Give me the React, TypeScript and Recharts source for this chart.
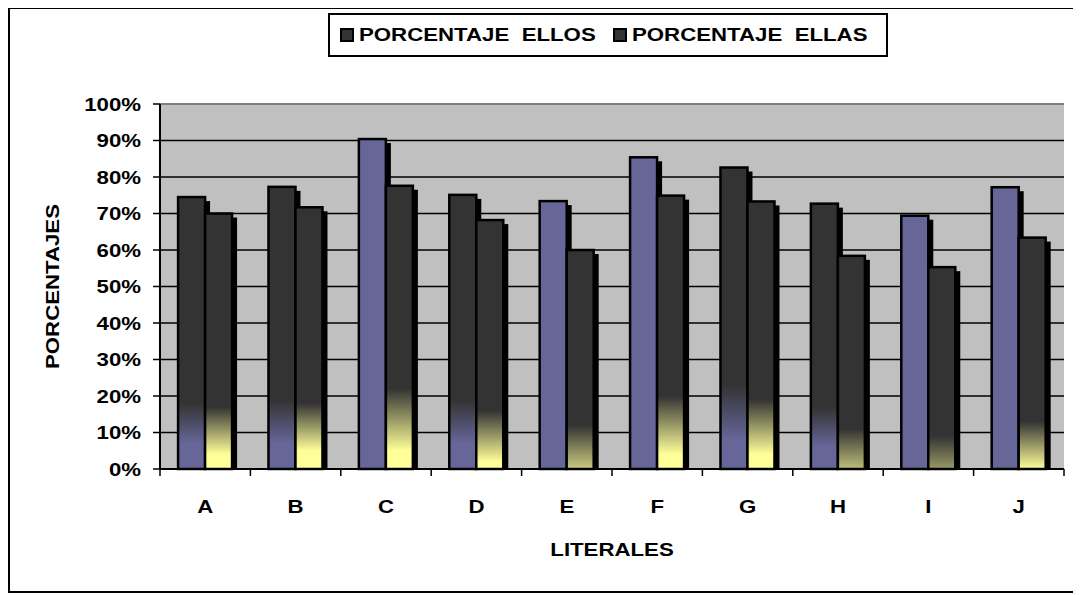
import React from 'react';
import { BarChart, Bar, XAxis, YAxis, CartesianGrid, Legend, Label, ReferenceLine } from 'recharts';

const literales = ['A', 'B', 'C', 'D', 'E', 'F', 'G', 'H', 'I', 'J'];
const porcentajeEllos = [74.5, 77.3, 90.4, 75.1, 73.4, 85.4, 82.6, 72.7, 69.4, 77.2];
const porcentajeEllas = [70.0, 71.7, 77.6, 68.2, 60.0, 74.9, 73.3, 58.4, 55.3, 63.4];
const yTicks = [0, 10, 20, 30, 40, 50, 60, 70, 80, 90, 100];
const seriesNames = ['PORCENTAJE  ELLOS', 'PORCENTAJE  ELLAS'];

// where the dark top blends into the base colour, in axis units: [dark ends, full colour]
const fadeEllos = [[18, 7], [19, 7], null, [19, 7], null, null, [23, 8], [17, 6], null, null];
const fadeEllas = [[17, 4], [18, 5], [22, 5], [16, 2], [12, -4], [20, 4], [19, 4], [11, -5], [9, -9], [13, 0]];

const DARK = '#333333';
const PURPLE = '#666699';
const YELLOW = '#FFFF99';
const FONT = "'Liberation Sans', Arial, sans-serif";
const STRETCH = 1.17;
const FONT_SIZE = 19;
const PLOT_W = 904;

const data = literales.map((l, i) => ({ literal: l, ellos: porcentajeEllos[i], ellas: porcentajeEllas[i] }));

const StretchText = ({ x, y, anchor, rotate, children }: any) => (
  <text
    transform={`translate(${x},${y})${rotate ? ' rotate(-90)' : ''} scale(${STRETCH},1)`}
    textAnchor={anchor}
    dominantBaseline="central"
    fontFamily={FONT}
    fontWeight="bold"
    fontSize={FONT_SIZE}
    fill="#000"
  >
    {children}
  </text>
);

const makeShape = (key: string, base: string, fades: any[]) => (props: any) => {
  const { x, y, width, height, index, value } = props;
  if (!height || height <= 0) return <g />;
  const v = Array.isArray(value) ? value[1] - value[0] : value;
  const perUnit = height / v;
  const bottom = y + height;
  const fade = fades[index];
  const id = `fade-${key}-${index}`;
  return (
    <g>
      {fade && (
        <defs>
          <linearGradient id={id} gradientUnits="userSpaceOnUse" x1={0} x2={0} y1={bottom - fade[0] * perUnit} y2={bottom - fade[1] * perUnit}>
            <stop offset="0" stopColor={DARK} />
            <stop offset="1" stopColor={base} />
          </linearGradient>
        </defs>
      )}
      <rect x={x + 5} y={y + 4} width={width} height={Math.max(0, height - 4)} fill="#000" />
      <rect x={x} y={y} width={width} height={height} fill={fade ? `url(#${id})` : base} stroke="#000" strokeWidth={2.5} />
    </g>
  );
};

const XTick = (props: any) => {
  const { x, y, payload, index } = props;
  const band = PLOT_W / literales.length;
  const left = x - band / 2;
  return (
    <g>
      <line x1={left} x2={left} y1={y} y2={y + 7} stroke="#000" strokeWidth={1.5} />
      {index === literales.length - 1 && (
        <line x1={left + band} x2={left + band} y1={y} y2={y + 7} stroke="#000" strokeWidth={1.5} />
      )}
      <StretchText x={x} y={y + 37} anchor="middle">{payload.value}</StretchText>
    </g>
  );
};

const YTick = (props: any) => {
  const { x, y, payload } = props;
  return <StretchText x={x} y={y} anchor="end">{`${payload.value}%`}</StretchText>;
};

const LegendBox = () => (
  <div
    style={{
      boxSizing: 'border-box',
      width: 560,
      height: 44,
      border: '2px solid #000',
      background: '#fff',
      display: 'flex',
      alignItems: 'center',
      paddingLeft: 10,
      fontFamily: FONT,
      fontWeight: 'bold',
      fontSize: FONT_SIZE,
      color: '#000',
    }}
  >
    {seriesNames.map((name) => (
      <div key={name} style={{ width: 294, display: 'flex', alignItems: 'center' }}>
        <span style={{ display: 'inline-block', boxSizing: 'border-box', width: 14, height: 14, background: DARK, border: '2px solid #000', marginRight: 5 }} />
        <span style={{ display: 'inline-block', whiteSpace: 'pre', transform: `scaleX(${STRETCH})`, transformOrigin: 'left center' }}>{name}</span>
      </div>
    ))}
  </div>
);

export default function App() {
  return (
    <div
      style={{
        position: 'relative',
        boxSizing: 'border-box',
        width: 1074,
        height: 586,
        marginTop: -1,
        border: '2px solid #000',
        background: '#fff',
      }}
    >
      <BarChart
        width={1068}
        height={582}
        data={data}
        margin={{ top: 95, right: 14, bottom: 22, left: 10 }}
        barCategoryGap="20%"
        barGap={0}
      >
        <CartesianGrid vertical={false} stroke="#000" strokeWidth={1.6} fill="#C0C0C0" fillOpacity={1} />
        <XAxis
          dataKey="literal"
          height={100}
          tickLine={false}
          tickSize={0}
          tickMargin={0}
          axisLine={{ stroke: '#000', strokeWidth: 2 }}
          tick={<XTick />}
          interval={0}
        >
          <Label
            content={(p: any) => {
              const vb = p.viewBox;
              return <StretchText x={vb.x + vb.width / 2} y={vb.y + 80} anchor="middle">LITERALES</StretchText>;
            }}
          />
        </XAxis>
        <YAxis
          width={140}
          domain={[0, 100]}
          ticks={yTicks}
          interval={0}
          tickSize={7}
          tickMargin={12}
          tickLine={{ stroke: '#000', strokeWidth: 1.5 }}
          axisLine={{ stroke: '#000', strokeWidth: 2 }}
          tick={<YTick />}
        >
          <Label
            content={(p: any) => {
              const vb = p.viewBox;
              return <StretchText x={vb.x + 32} y={vb.y + vb.height / 2} anchor="middle" rotate>PORCENTAJES</StretchText>;
            }}
          />
        </YAxis>
        <YAxis yAxisId="r" orientation="right" width={0} domain={[0, 100]} tick={false} tickLine={false} axisLine={{ stroke: '#808080', strokeWidth: 2 }} />
        <ReferenceLine y={100} stroke="#808080" strokeWidth={2} />
        <Legend
          layout="horizontal"
          verticalAlign="middle"
          align="center"
          wrapperStyle={{ left: 318, top: 4, width: 560, height: 44 }}
          content={() => <LegendBox />}
        />
        <Bar dataKey="ellos" name={seriesNames[0]} fill={DARK} isAnimationActive={false} shape={makeShape('ellos', PURPLE, fadeEllos)} />
        <Bar dataKey="ellas" name={seriesNames[1]} fill={DARK} isAnimationActive={false} shape={makeShape('ellas', YELLOW, fadeEllas)} />
      </BarChart>
    </div>
  );
}
